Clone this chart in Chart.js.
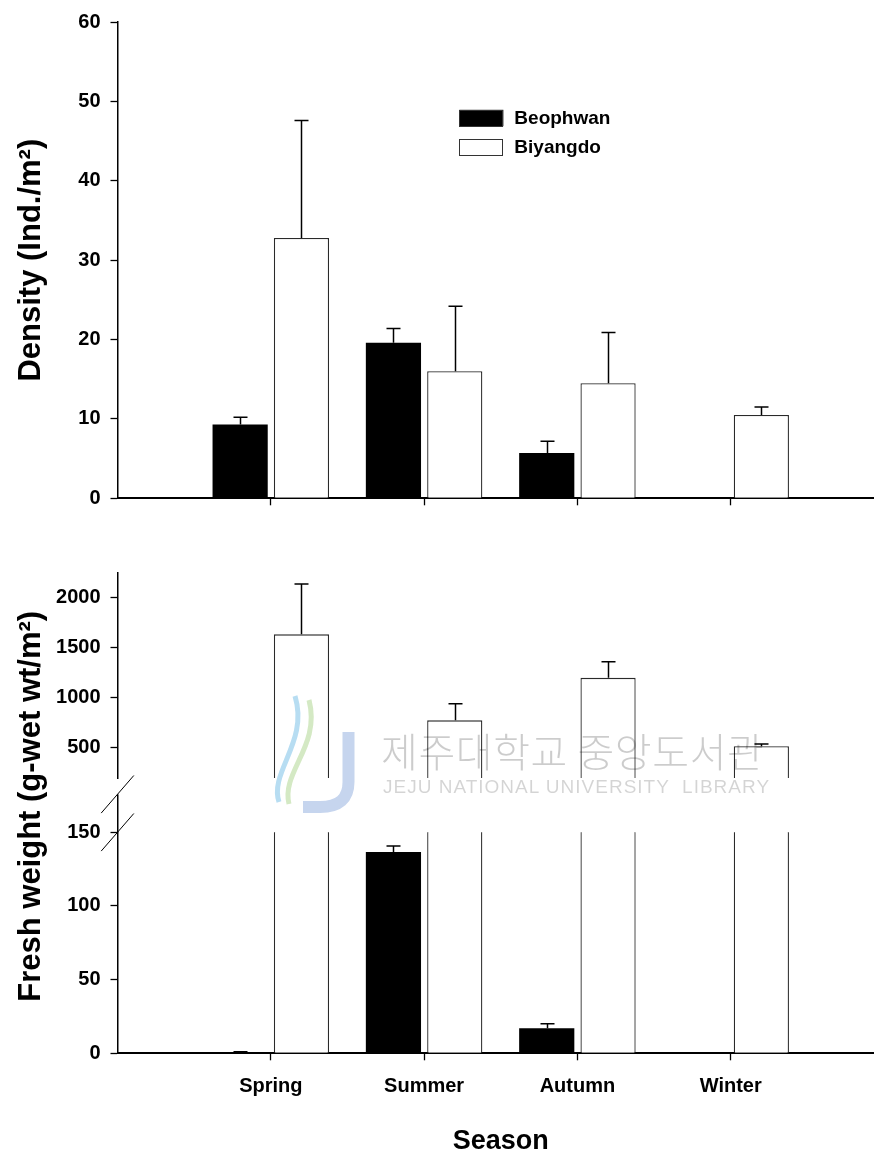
<!DOCTYPE html>
<html>
<head>
<meta charset="utf-8">
<script src="https://cdn.jsdelivr.net/npm/chart.js@4.4.1/dist/chart.umd.min.js"></script>
<style>
html,body{margin:0;padding:0;background:#fff;width:874px;height:1158px;overflow:hidden;}
#wrap{position:relative;width:874px;height:1158px;overflow:hidden;background:#fff;}
.cv{position:absolute;left:0;z-index:2;}
#wmLogo{position:absolute;left:265px;top:690px;z-index:3;opacity:0.75;}
#wmKo{position:absolute;left:381px;top:730px;z-index:3;font-family:"Noto Sans CJK KR",sans-serif;font-weight:300;font-size:40px;line-height:1;color:rgba(0,0,0,0.2);letter-spacing:0.6px;white-space:nowrap;}
#wmEn{position:absolute;left:383px;top:777px;z-index:3;font-family:"Liberation Sans",Arial,sans-serif;font-size:19px;line-height:1;color:rgba(0,0,0,0.17);letter-spacing:1px;white-space:pre;}
</style>
</head>
<body>
<div id="wrap">
  <svg id="wmLogo" width="100" height="125" viewBox="0 0 100 125">
    <path d="M 14 112 C 4 82, 44 52, 30 6" fill="none" stroke="#9fd2ee" stroke-width="5"/>
    <path d="M 24 114 C 16 82, 56 56, 44 10" fill="none" stroke="#c6e2b0" stroke-width="5"/>
    <path d="M 83.5 42 L 83.5 92 Q 83.5 117 55 117 L 38 117" fill="none" stroke="#b3c7e8" stroke-width="12"/>
  </svg>
  <div id="wmKo">제주대학교 중앙도서관</div>
  <div id="wmEn">JEJU NATIONAL UNIVERSITY  LIBRARY</div>
  <canvas id="c1" class="cv" width="900" height="530" style="top:0px"></canvas>
  <canvas id="c2" class="cv" width="900" height="260" style="top:540px"></canvas>
  <canvas id="c3" class="cv" width="900" height="578" style="top:580px"></canvas>
</div>
<script>
// ---------------- data ----------------
const seasons = ['Spring', 'Summer', 'Autumn', 'Winter'];
const seriesNames = ['Beophwan', 'Biyangdo'];

const densityBeophwan   = [9.3, 19.6, 5.7, 0];
const densityBeophwanSE = [0.9, 1.8, 1.5, 0];
const densityBiyangdo   = [32.8, 16.0, 14.5, 10.5];
const densityBiyangdoSE = [14.8, 8.2, 6.4, 1.0];

const weightBeophwan    = [0.8, 136.7, 17.0, 0];
const weightBeophwanSE  = [0.3, 4.0, 3.1, 0];
const weightBiyangdo    = [1633, 775, 1199, 517];
const weightBiyangdoSE  = [502, 166, 160, 21];

const densityTicks    = [0, 10, 20, 30, 40, 50, 60];
const weightHighTicks = [500, 1000, 1500, 2000];
const weightLowTicks  = [0, 50, 100, 150];

const densityTitle = 'Density (Ind./m\u00B2)';
const weightTitle  = 'Fresh weight (g-wet wt/m\u00B2)';
const xTitle = 'Season';

// ---------------- layout / style ----------------
const FONT = "'Liberation Sans', Arial, Helvetica, sans-serif";
const LEFT = 117.5;
const RIGHT_PAD = 16;
const PANEL_GAP = 38;

Chart.defaults.font.family = FONT;
Chart.defaults.color = '#000';

function makeData(a, aErr, b, bErr) {
  return {
    datasets: [
      { label: seriesNames[0], data: a.map((v, i) => ({ x: i + 1, y: v })), errors: aErr,
        backgroundColor: '#000', borderColor: '#000', borderWidth: 0, clip: 0,
        categoryPercentage: 0.80, barPercentage: 0.90 },
      { label: seriesNames[1], data: b.map((v, i) => ({ x: i + 1, y: v })), errors: bErr,
        backgroundColor: '#fff', borderColor: '#2a2a2a', borderWidth: 1.3, clip: 0,
        categoryPercentage: 0.80, barPercentage: 0.90 }
    ]
  };
}

function xScale(opts) {
  const s = {
    type: 'linear', min: 0, max: 5, offset: false, position: 'bottom', display: opts.display,
    afterBuildTicks: ax => { ax.ticks = seasons.map((s, i) => ({ value: i + 1 })); },
    ticks: { display: opts.labels, callback: (v, i) => seasons[i], autoSkip: false, maxRotation: 0,
             font: { size: 20, weight: 'bold' }, color: '#000', padding: 14 },
    grid: { offset: false, drawOnChartArea: false, drawTicks: true, tickLength: 7, tickColor: '#000', tickWidth: 1.3 },
    border: { display: true, color: '#000', width: 2 },
    title: opts.title ? { display: true, text: opts.title, font: { size: 27, weight: 'bold' }, color: '#000', padding: { top: 0, bottom: 0 } } : { display: false }
  };
  if (opts.height !== undefined) s.afterFit = ax => { ax.height = opts.height; };
  return s;
}

function yScale(min, max, tickArr, title) {
  return {
    type: 'linear', min, max, position: 'left',
    afterBuildTicks: ax => { ax.ticks = tickArr.map(v => ({ value: v })); },
    ticks: { font: { size: 20, weight: 'bold' }, color: '#000', padding: 10, callback: v => String(v) },
    grid: { drawOnChartArea: false, drawTicks: true, tickLength: 7, tickColor: '#000', tickWidth: 1.3 },
    border: { display: true, color: '#000', width: 1.5 },
    title: title ? { display: true, text: title, font: { size: 31, weight: 'bold' }, color: '#000', padding: { top: 12.7, bottom: 0 } } : { display: false },
    afterFit: ax => { ax.width = LEFT; }
  };
}

const errorBars = {
  id: 'errorBars',
  afterDatasetsDraw(chart) {
    const { ctx, chartArea: a } = chart;
    const yS = chart.scales.y;
    ctx.save();
    ctx.beginPath();
    ctx.rect(a.left, a.top - 1, a.right - a.left, a.bottom - a.top + 1);
    ctx.clip();
    ctx.strokeStyle = '#000';
    ctx.lineWidth = 1.5;
    chart.data.datasets.forEach((ds, di) => {
      const meta = chart.getDatasetMeta(di);
      meta.data.forEach((bar, i) => {
        const e = ds.errors[i];
        if (!e) return;
        const v = ds.data[i].y;
        const yv = yS.getPixelForValue(v);
        const yt = yS.getPixelForValue(v + e);
        const x = Math.round(bar.x) + 0.5;
        ctx.beginPath();
        ctx.moveTo(x, yv); ctx.lineTo(x, yt);
        ctx.moveTo(x - 7, yt); ctx.lineTo(x + 7, yt);
        ctx.stroke();
      });
    });
    ctx.restore();
  }
};

const legendPlugin = {
  id: 'legendBox',
  afterDraw(chart) {
    const { ctx } = chart;
    const xs = chart.scales.x;
    const x0 = xs.getPixelForValue(2.23);
    const rows = [118, 147];
    ctx.save();
    rows.forEach((cy, k) => {
      const ds = chart.data.datasets[k];
      ctx.fillStyle = ds.backgroundColor;
      ctx.fillRect(x0, cy - 8.2, 44, 16.4);
      ctx.strokeStyle = '#333';
      ctx.lineWidth = 1;
      ctx.strokeRect(Math.round(x0) + 0.5, Math.round(cy - 8.2) + 0.5, 43, 16);
      ctx.fillStyle = '#000';
      ctx.font = 'bold 19px ' + FONT;
      ctx.textAlign = 'left';
      ctx.textBaseline = 'middle';
      ctx.fillText(ds.label, x0 + 55, cy + 1);
    });
    ctx.restore();
  }
};

const breakPlugin = {
  id: 'axisBreak',
  afterDraw(chart) {
    const { ctx, chartArea: a } = chart;
    const ax = Math.round(a.left - 0.75) + 0.75;
    ctx.save();
    ctx.strokeStyle = '#000';
    ctx.lineWidth = 1.5;
    ctx.beginPath();
    ctx.moveTo(ax, a.top);
    ctx.lineTo(ax, a.top - PANEL_GAP);
    ctx.stroke();
    ctx.lineWidth = 1;
    [a.top, a.top - PANEL_GAP].forEach(cy => {
      ctx.beginPath();
      ctx.moveTo(a.left - 16.3, cy + 18.8);
      ctx.lineTo(a.left + 16.3, cy - 18.8);
      ctx.stroke();
    });
    // shared y-axis title spanning both panels
    ctx.translate(31.3, a.top - PANEL_GAP / 2 - 7);
    ctx.rotate(-Math.PI / 2);
    ctx.fillStyle = '#000';
    ctx.font = 'bold 31px ' + FONT;
    ctx.textAlign = 'center';
    ctx.textBaseline = 'middle';
    ctx.fillText(weightTitle, 0, 0);
    ctx.restore();
  }
};

function baseOptions(pad, scales) {
  return {
    responsive: false, animation: false, devicePixelRatio: 1, events: [],
    layout: { padding: pad },
    plugins: { legend: { display: false }, tooltip: { enabled: false } },
    scales
  };
}

// Top: density
new Chart(document.getElementById('c1'), {
  type: 'bar',
  data: makeData(densityBeophwan, densityBeophwanSE, densityBiyangdo, densityBiyangdoSE),
  options: baseOptions({ top: 18.3, right: RIGHT_PAD, bottom: 0, left: 0 }, {
    x: xScale({ display: true, labels: false, height: 530 - 498.3 }),
    y: yScale(0, 60, densityTicks, densityTitle)
  }),
  plugins: [errorBars, legendPlugin]
});

// Bottom upper panel: fresh weight 200-2250
new Chart(document.getElementById('c2'), {
  type: 'bar',
  data: makeData(weightBeophwan, weightBeophwanSE, weightBiyangdo, weightBiyangdoSE),
  options: baseOptions({ top: 572.5 - 540, right: RIGHT_PAD, bottom: 800 - 794.3, left: 0 }, {
    x: xScale({ display: false, labels: false }),
    y: yScale(200, 2250, weightHighTicks, null)
  }),
  plugins: [errorBars]
});

// Bottom lower panel: fresh weight 0-150
new Chart(document.getElementById('c3'), {
  type: 'bar',
  data: makeData(weightBeophwan, weightBeophwanSE, weightBiyangdo, weightBiyangdoSE),
  options: baseOptions({ top: 832.3 - 580, right: RIGHT_PAD, bottom: 0, left: 0 }, {
    x: xScale({ display: true, labels: true, title: xTitle, height: 1158 - 1053.3 }),
    y: yScale(0, 150, weightLowTicks, null)
  }),
  plugins: [errorBars, breakPlugin]
});
</script>
</body>
</html>
